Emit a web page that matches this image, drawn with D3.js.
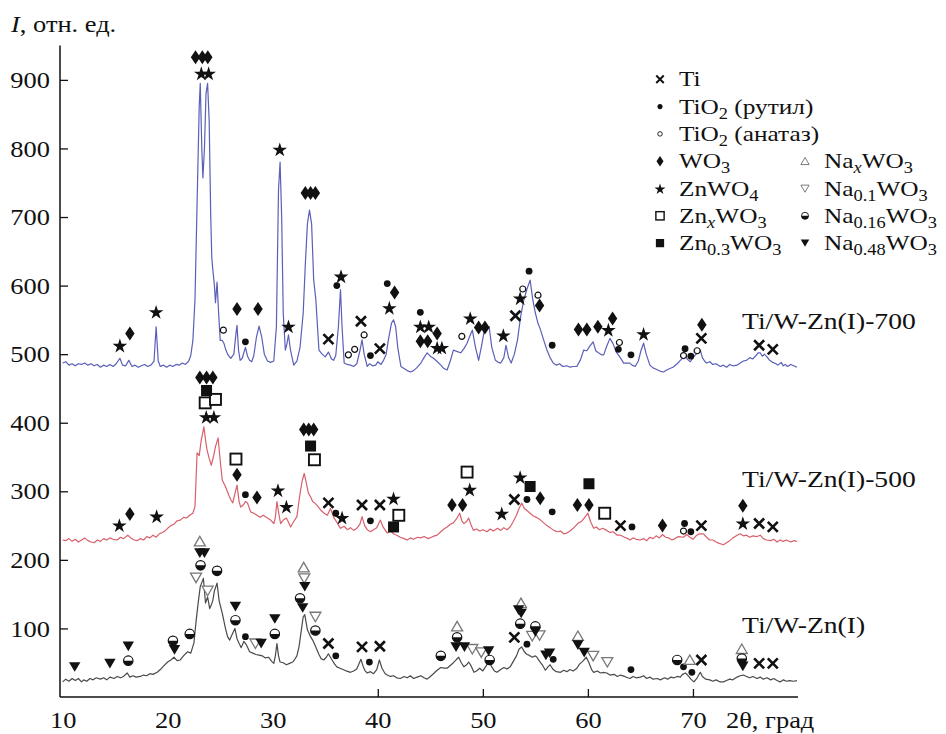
<!DOCTYPE html>
<html><head><meta charset="utf-8">
<script src="https://cdn.jsdelivr.net/npm/d3@7"></script>
<style>body{margin:0;background:#fff}svg{display:block}</style>
</head><body>
<svg id="chart" width="946" height="734"></svg>
<script>
// ---------- DATA ----------
const xTicks = [10, 20, 30, 40, 50, 60, 70];
const yTicks = [100, 200, 300, 400, 500, 600, 700, 800, 900];
const seriesNames = ["Ti/W-Zn(I)-700", "Ti/W-Zn(I)-500", "Ti/W-Zn(I)"];

const trace700 = [[10.0,487],[10.3,489],[10.6,484],[10.9,486],[11.2,483],[11.5,486],[11.8,485],[12.1,487],[12.4,484],[12.7,486],[13.0,483],[13.3,485],[13.6,481],[13.9,484],[14.2,482],[14.5,485],[14.8,482],[15.1,486],[15.45,494],[15.7,484],[16.0,483],[16.3,491],[16.6,482],[16.9,484],[17.2,481],[17.5,483],[17.8,485],[18.1,482],[18.4,484],[18.7,490],[18.9,540],[19.1,490],[19.3,482],[19.6,484],[19.9,481],[20.2,484],[20.5,482],[20.8,485],[21.1,484],[21.4,487],[21.7,485],[22.0,490],[22.2,498],[22.4,520],[22.6,580],[22.8,720],[23.0,860],[23.1,895],[23.25,800],[23.35,757],[23.5,800],[23.65,880],[23.8,895],[23.95,840],[24.1,700],[24.2,640],[24.3,623],[24.45,600],[24.55,575],[24.7,605],[24.85,560],[25.0,520],[25.2,520],[25.35,516],[25.5,508],[25.7,500],[26.0,494],[26.3,500],[26.5,530],[26.6,542],[26.75,505],[26.9,491],[27.1,494],[27.4,510],[27.6,497],[27.8,491],[28.0,489],[28.2,498],[28.45,525],[28.7,541],[28.95,525],[29.2,500],[29.5,490],[29.8,488],[30.1,490],[30.35,540],[30.55,740],[30.7,780],[30.85,700],[31.0,560],[31.2,506],[31.35,515],[31.5,528],[31.7,505],[32.0,484],[32.3,490],[32.6,510],[32.9,560],[33.1,630],[33.3,690],[33.5,710],[33.7,690],[33.9,608],[34.1,580],[34.4,506],[34.7,500],[35.0,496],[35.3,503],[35.6,493],[35.8,491],[36.0,498],[36.25,540],[36.45,594],[36.6,540],[36.8,487],[37.1,485],[37.4,484],[37.7,482],[38.0,486],[38.3,505],[38.5,521],[38.7,500],[39.0,482],[39.2,486],[39.5,483],[39.8,484],[40.0,489],[40.3,485],[40.55,491],[40.8,500],[41.0,520],[41.3,545],[41.5,550],[41.7,540],[41.9,510],[42.2,482],[42.5,479],[42.8,476],[43.1,474],[43.4,476],[43.7,480],[44.1,487],[44.4,495],[44.7,502],[45.0,497],[45.3,494],[45.6,490],[46.0,484],[46.3,479],[46.6,477],[46.9,490],[47.2,506],[47.5,504],[47.9,502],[48.2,508],[48.5,516],[48.8,528],[49.0,535],[49.3,510],[49.6,491],[49.85,510],[50.1,531],[50.35,536],[50.6,540],[50.85,510],[51.2,491],[51.5,488],[51.7,487],[52.0,495],[52.2,513],[52.45,495],[52.7,487],[53.0,500],[53.3,521],[53.6,555],[53.9,579],[54.2,595],[54.5,608],[54.75,580],[55.0,560],[55.25,545],[55.5,535],[55.8,520],[56.1,506],[56.4,495],[56.7,487],[57.0,484],[57.3,486],[57.6,482],[58.0,483],[58.3,481],[58.6,482],[58.95,482],[59.3,492],[59.6,506],[59.9,505],[60.2,512],[60.5,518],[60.75,505],[61.0,502],[61.3,499],[61.5,499],[61.8,512],[62.1,523],[62.4,515],[62.7,503],[62.9,499],[63.2,492],[63.4,487],[63.8,487],[64.0,487],[64.2,484],[64.5,482],[64.8,490],[65.05,505],[65.3,516],[65.55,500],[65.9,484],[66.2,480],[66.5,478],[66.9,475],[67.2,474],[67.5,477],[67.8,479],[68.1,481],[68.5,486],[68.8,491],[69.05,495],[69.3,496],[69.5,492],[69.75,489],[70.0,495],[70.3,500],[70.5,504],[70.7,506],[70.9,495],[71.1,490],[71.3,487],[71.6,489],[71.9,485],[72.2,486],[72.6,482],[72.9,484],[73.2,481],[73.5,485],[73.8,483],[74.2,484],[74.5,487],[74.8,490],[75.1,491],[75.4,495],[75.7,493],[76.0,498],[76.2,502],[76.4,502],[76.6,497],[76.8,500],[77.05,496],[77.3,491],[77.6,488],[77.9,486],[78.1,484],[78.4,488],[78.6,483],[78.8,485],[79.0,482],[79.3,485],[79.6,483],[79.9,481]];

const trace500 = [[10.0,229],[10.3,228],[10.6,231],[10.9,227],[11.2,230],[11.5,226],[11.8,229],[12.1,232],[12.4,228],[12.7,226],[13.0,225],[13.3,229],[13.6,227],[13.9,231],[14.2,229],[14.5,232],[14.8,230],[15.2,229],[15.5,233],[15.8,231],[16.2,236],[16.5,232],[16.8,229],[17.1,228],[17.4,231],[17.7,229],[18.0,234],[18.3,232],[18.6,236],[18.9,233],[19.2,238],[19.5,240],[19.8,243],[20.0,246],[20.3,250],[20.6,252],[20.9,257],[21.2,258],[21.5,262],[21.8,261],[22.1,265],[22.4,268],[22.6,278],[22.8,356],[23.0,352],[23.2,375],[23.45,394],[23.6,375],[23.75,360],[23.95,348],[24.15,338],[24.35,350],[24.55,365],[24.8,378],[25.0,345],[25.2,316],[25.5,307],[25.8,295],[26.0,288],[26.2,283],[26.45,300],[26.6,309],[26.8,285],[26.95,277],[27.2,280],[27.4,285],[27.6,283],[27.9,270],[28.2,268],[28.5,265],[28.8,262],[29.1,265],[29.5,261],[29.8,258],[30.1,253],[30.25,262],[30.4,285],[30.55,270],[30.75,253],[31.0,258],[31.3,261],[31.5,255],[31.7,248],[32.0,256],[32.3,263],[32.6,297],[32.8,315],[33.0,326],[33.2,312],[33.4,297],[33.6,292],[33.8,285],[34.0,283],[34.3,278],[34.6,272],[34.9,268],[35.2,265],[35.5,275],[35.8,262],[36.1,255],[36.45,246],[36.8,249],[37.1,244],[37.4,247],[37.7,243],[38.0,246],[38.3,252],[38.5,263],[38.75,250],[39.0,244],[39.3,241],[39.6,244],[39.9,247],[40.25,258],[40.5,248],[40.9,239],[41.2,242],[41.5,238],[41.8,236],[42.15,233],[42.5,231],[42.8,229],[43.1,232],[43.4,230],[43.8,233],[44.1,232],[44.4,234],[44.8,231],[45.1,233],[45.4,235],[45.65,236],[46.0,241],[46.3,245],[46.6,248],[46.9,252],[47.2,254],[47.5,260],[47.8,268],[48.0,257],[48.2,253],[48.45,256],[48.65,261],[48.9,250],[49.1,243],[49.4,245],[49.7,242],[50.0,244],[50.4,241],[50.7,245],[51.0,242],[51.4,246],[51.7,243],[52.0,247],[52.3,244],[52.6,248],[52.9,256],[53.2,265],[53.45,275],[53.7,283],[53.95,275],[54.2,272],[54.5,268],[54.8,264],[55.1,262],[55.5,258],[55.8,254],[56.1,250],[56.4,247],[56.75,243],[57.1,241],[57.4,242],[57.7,238],[58.0,239],[58.3,242],[58.6,246],[58.85,250],[59.1,254],[59.4,256],[59.7,262],[60.0,268],[60.25,256],[60.55,246],[60.8,248],[61.1,244],[61.4,246],[61.8,243],[62.1,240],[62.4,241],[62.8,236],[63.1,236],[63.5,233],[63.8,231],[64.0,229],[64.3,232],[64.6,230],[65.0,229],[65.3,231],[65.6,228],[65.9,233],[66.2,231],[66.5,235],[66.8,232],[67.1,237],[67.4,233],[67.7,232],[68.0,229],[68.3,231],[68.6,234],[69.1,233],[69.4,237],[69.7,233],[70.0,230],[70.3,235],[70.6,238],[71.0,238],[71.3,233],[71.6,229],[71.9,229],[72.2,226],[72.5,224],[72.9,222],[73.2,225],[73.5,228],[73.8,232],[74.2,236],[74.5,238],[74.8,235],[75.1,236],[75.4,233],[75.7,235],[76.1,234],[76.4,236],[76.7,231],[77.0,229],[77.4,228],[77.7,230],[78.0,226],[78.3,229],[78.6,227],[78.9,229],[79.3,226],[79.6,228],[79.9,227]];

const traceInit = [[10.0,22],[10.3,26],[10.6,23],[10.9,27],[11.2,24],[11.5,27],[11.8,22],[12.0,25],[12.3,23],[12.6,27],[12.9,25],[13.2,28],[13.6,26],[13.9,28],[14.2,25],[14.5,29],[14.9,27],[15.2,30],[15.5,28],[15.8,30],[16.15,35],[16.4,29],[16.7,31],[17.0,29],[17.4,30],[17.7,32],[18.0,31],[18.3,34],[18.6,33],[19.0,36],[19.3,40],[19.6,45],[20.0,51],[20.3,54],[20.6,58],[20.9,53],[21.2,54],[21.5,60],[21.9,66],[22.2,64],[22.5,79],[22.7,110],[22.9,137],[23.1,161],[23.4,173],[23.6,137],[23.8,146],[24.0,129],[24.15,134],[24.3,141],[24.45,155],[24.7,166],[24.9,140],[25.2,122],[25.5,100],[25.7,88],[25.9,83],[26.1,90],[26.4,100],[26.6,85],[26.8,78],[27.0,72],[27.25,81],[27.5,76],[27.8,66],[28.1,64],[28.4,62],[28.7,61],[29.0,60],[29.3,57],[29.6,58],[29.9,52],[30.1,49],[30.25,60],[30.4,78],[30.55,60],[30.7,51],[31.0,50],[31.3,47],[31.6,49],[31.9,51],[32.1,55],[32.3,60],[32.5,73],[32.7,95],[32.9,117],[33.05,120],[33.3,98],[33.6,88],[33.8,83],[34.1,73],[34.4,62],[34.6,56],[34.85,54],[35.1,58],[35.3,63],[35.6,55],[35.9,48],[36.1,44],[36.4,42],[36.7,40],[37.0,38],[37.4,36],[37.7,38],[38.0,41],[38.2,48],[38.4,55],[38.6,45],[38.8,38],[39.0,35],[39.3,37],[39.6,34],[39.9,40],[40.15,54],[40.4,42],[40.7,34],[40.9,32],[41.2,30],[41.5,31],[41.8,28],[42.15,27],[42.5,30],[42.8,28],[43.1,31],[43.4,27],[43.75,29],[44.1,31],[44.4,28],[44.7,26],[45.0,30],[45.3,34],[45.65,39],[46.0,43],[46.3,42],[46.6,42],[46.9,46],[47.2,50],[47.5,55],[47.7,58],[47.95,50],[48.2,44],[48.45,47],[48.65,51],[48.9,45],[49.15,36],[49.4,38],[49.7,42],[50.0,38],[50.3,45],[50.6,54],[50.8,45],[51.1,38],[51.35,36],[51.7,40],[52.0,43],[52.3,41],[52.6,44],[52.9,52],[53.2,60],[53.45,70],[53.7,73],[53.95,66],[54.2,62],[54.4,61],[54.7,58],[55.0,60],[55.15,58],[55.4,52],[55.7,46],[55.95,39],[56.2,44],[56.4,47],[56.7,40],[57.0,37],[57.4,36],[57.7,39],[58.0,37],[58.3,40],[58.6,38],[58.95,42],[59.2,48],[59.5,52],[59.85,58],[60.1,50],[60.35,40],[60.55,36],[60.9,38],[61.2,35],[61.5,36],[61.8,35],[62.1,32],[62.5,33],[62.8,30],[63.1,32],[63.5,30],[63.8,28],[64.0,27],[64.3,30],[64.6,28],[65.0,29],[65.3,31],[65.6,27],[65.9,29],[66.2,26],[66.6,27],[66.9,25],[67.3,28],[67.6,26],[67.9,29],[68.2,28],[68.5,30],[68.8,29],[69.0,33],[69.3,35],[69.6,30],[69.8,26],[70.1,22],[70.4,28],[70.7,36],[70.9,30],[71.2,26],[71.6,25],[71.9,23],[72.2,25],[72.6,22],[72.9,22],[73.2,24],[73.5,26],[73.8,25],[74.2,29],[74.5,31],[74.8,32],[75.1,30],[75.4,28],[75.7,30],[76.1,27],[76.4,29],[76.7,26],[77.05,28],[77.4,25],[77.7,27],[78.0,24],[78.3,22],[78.6,25],[78.9,23],[79.2,24],[79.6,23],[79.9,24]];

// phase marker positions [2θ, I]
const tiMarks = [[35.3,522],[38.4,548],[40.2,508],[53.1,556],[70.8,523],[76.3,513],[77.6,507],
  [35.3,283],[38.5,280],[40.2,280],[53.0,288],[63.1,250],[70.8,250],[76.3,253],[77.6,248],
  [35.3,78],[38.5,73],[40.2,74],[53.0,87],[70.8,54],[76.3,49],[77.6,49]];
const rutileMarks = [[27.4,518],[36.1,600],[39.3,498],[40.9,603],[44.05,561],[54.4,621],[56.6,513],[62.9,507],[64.1,499],[69.25,508],[69.8,497],
  [27.4,295],[36.0,268],[39.3,257],[54.2,288],[56.6,270],[64.2,248],[69.2,253],[69.8,241],
  [27.4,88],[36.0,60],[39.2,51],[54.2,77],[56.7,55],[64.1,40],[69.1,44],[69.9,36]];
const anataseMarks = [[25.3,535],[37.2,499],[37.8,507],[38.7,528],[44.4,538],[48.0,526],[53.8,595],[55.25,586],[63.0,517],[69.1,498],[70.4,505],
  [69.1,242]];
const wo3Marks = [[22.65,933],[23.3,933],[23.82,933],[33.1,735],[33.6,735],[34.06,735],[16.4,530],[26.6,566],[28.6,566],[41.6,590],[44.05,519],[44.75,519],[45.65,530],[49.6,539],[50.2,539],[55.4,571],[59.1,536],[59.9,536],[60.95,540],[62.35,552],[70.85,543],
  [23.06,466],[23.7,466],[24.3,466],[26.6,324],[32.95,390],[33.43,390],[33.9,390],[16.4,267],[28.5,291],[47.06,280],[48.07,280],[55.46,290],[59.0,280],[60.1,280],[67.1,250],[74.75,279]];
const znwo4Marks = [[23.2,910],[23.9,910],[30.67,799],[15.45,513],[18.9,562],[31.5,541],[36.5,614],[41.1,568],[44.05,541],[44.85,541],[45.65,510],[46.1,510],[48.8,553],[51.95,528],[53.55,582],[61.95,536],[65.3,530],
  [23.67,409],[24.4,409],[15.4,251],[18.95,264],[30.5,302],[31.3,278],[36.6,262],[41.5,290],[48.75,303],[51.8,268],[53.55,321],[74.75,254]];
const znxMarks = [[23.57,429],[24.55,434],[26.5,347],[33.97,346],[42.0,265],[48.5,328],[61.6,268]];
const zn03Marks = [[23.7,447],[33.6,366],[41.5,248],[54.5,307],[60.1,311]];
const naxMarks = [[23.06,227],[32.95,189],[47.55,103],[53.63,137],[59.05,89],[69.7,54],[74.65,70]];
const na01Marks = [[22.7,174],[23.8,155],[28.35,78],[33.0,173],[34.06,117],[49.0,70],[49.85,65],[54.7,89],[55.4,90],[60.5,60],[61.85,51]];
const na016Marks = [[16.25,53],[20.5,82],[22.1,92],[23.13,192],[24.7,184],[26.45,112],[30.2,92],[32.6,144],[34.06,97],[46.0,60],[47.55,87],[50.65,54],[53.56,107],[55.0,103],[68.5,54],[74.65,56]];
const na048Marks = [[11.15,44],[14.5,49],[16.25,74],[20.65,69],[23.06,210],[23.5,210],[26.45,132],[28.9,78],[30.2,114],[33.05,161],[32.85,130],[47.45,73],[48.25,73],[50.55,67],[53.4,127],[53.65,122],[55.0,95],[56.0,61],[56.35,64],[59.05,76],[59.65,65],[74.75,45]];

const legendLeft = [
  ["ti", [["Ti"]]],
  ["rutile", [["TiO"],["2","sub"],[" (рутил)"]]],
  ["anatase", [["TiO"],["2","sub"],[" (анатаз)"]]],
  ["wo3", [["WO"],["3","sub"]]],
  ["znwo4", [["ZnWO"],["4","sub"]]],
  ["znx", [["Zn"],["x","subi"],["WO"],["3","sub"]]],
  ["zn03", [["Zn"],["0.3","sub"],["WO"],["3","sub"]]]
];
const legendRight = [
  ["nax", [["Na"],["x","subi"],["WO"],["3","sub"]]],
  ["na01", [["Na"],["0.1","sub"],["WO"],["3","sub"]]],
  ["na016", [["Na"],["0.16","sub"],["WO"],["3","sub"]]],
  ["na048", [["Na"],["0.48","sub"],["WO"],["3","sub"]]]
];

// ---------- CHART ----------
const svg = d3.select("#chart");
const FONT = "Liberation Serif, Times New Roman, serif";
const SX = 1.15;
const x = d3.scaleLinear().domain([9.75, 80]).range([60, 798]);
const y = d3.scaleLinear().domain([0, 950]).range([697, 45.6]);

function txt(g, px, py, segs, o) {
  const t = g.append("text")
    .attr("transform", `translate(${px},${py}) scale(${o.sx || SX},1)`)
    .attr("font-family", FONT).attr("font-size", o.size)
    .attr("text-anchor", o.anchor || "start").attr("fill", "#111");
  let shift = 0;
  segs.forEach(s => {
    const str = s[0], st = s[1] || "";
    const isSub = st.indexOf("sub") === 0;
    const target = isSub ? (o.subShift || 5) : 0;
    const ts = t.append("tspan").text(str).attr("dy", target - shift);
    shift = target;
    if (isSub) ts.attr("font-size", o.subSize || o.size * 0.72);
    if (st === "i" || st === "subi") ts.attr("font-style", "italic");
  });
  return t;
}

// axes
const yAxis = d3.axisLeft(y).tickValues(yTicks).tickSize(-8).tickPadding(10);
const gy = svg.append("g").attr("transform", "translate(60,0)").call(yAxis);
gy.select(".domain").attr("d", `M0,${y(950)}V${y(0)}`).attr("stroke", "#111").attr("stroke-width", 1.5);
gy.selectAll(".tick line").attr("stroke", "#111").attr("stroke-width", 1.3);
gy.selectAll(".tick text").attr("font-family", FONT).attr("font-size", 23).attr("fill", "#111")
  .attr("x", -10 / SX).attr("dy", "0.33em").attr("transform", `scale(${SX},1)`);

const xAxis = d3.axisBottom(x).tickValues(xTicks).tickSize(-8);
const gx = svg.append("g").attr("transform", `translate(0,${y(0)})`).call(xAxis);
gx.select(".domain").attr("d", `M60,0H798`).attr("stroke", "#111").attr("stroke-width", 1.5);
gx.selectAll(".tick line").attr("stroke", "#111").attr("stroke-width", 1.3)
  .attr("display", d => d < 40 ? "none" : null);
gx.selectAll(".tick text").attr("font-family", FONT).attr("font-size", 23).attr("fill", "#111")
  .attr("y", 14.5).attr("x", 0).attr("transform", `scale(${SX},1)`);

txt(svg, 726, 728, [["2θ, град"]], {size: 23});
txt(svg, 11, 32, [["I", "i"], [", отн. ед."]], {size: 23});

// traces
const line = d3.line().x(d => x(d[0])).y(d => y(d[1]));
const traces = [
  {data: trace700, color: "#5a5fb8"},
  {data: trace500, color: "#d8606c"},
  {data: traceInit, color: "#4a4a4a"}
];
svg.append("g").selectAll("path").data(traces).join("path")
  .attr("d", d => line(d.data)).attr("fill", "none")
  .attr("stroke", d => d.color).attr("stroke-width", 1.2).attr("stroke-linejoin", "round");

// series labels
txt(svg, 742, 329, [[seriesNames[0]]], {size: 24});
txt(svg, 742, 487, [[seriesNames[1]]], {size: 24});
txt(svg, 742, 633, [[seriesNames[2]]], {size: 24});

// marker drawing
function drawMarker(g, key, cx, cy, k) {
  const m = g.append("g").attr("transform", `translate(${cx},${cy}) scale(${k})`);
  switch (key) {
    case "ti":
      m.append("path").attr("d", "M-5,-5L5,5M-5,5L5,-5").attr("stroke", "#111").attr("stroke-width", 2.6).attr("fill", "none");
      break;
    case "rutile":
      m.append("circle").attr("r", 3.4).attr("fill", "#111");
      break;
    case "anatase":
      m.append("circle").attr("r", 3).attr("fill", "#fff").attr("stroke", "#111").attr("stroke-width", 1.2);
      break;
    case "wo3":
      m.append("path").attr("d", "M0,-7L4.7,0L0,7L-4.7,0Z").attr("fill", "#111");
      break;
    case "znwo4":
      m.append("path").attr("d", d3.symbol(d3.symbolStar, 66)()).attr("fill", "#111").attr("transform", "translate(0,1)");
      break;
    case "znx":
      m.append("rect").attr("x", -5.5).attr("y", -5.5).attr("width", 11).attr("height", 11)
        .attr("fill", "#fff").attr("stroke", "#111").attr("stroke-width", 1.9);
      break;
    case "zn03":
      m.append("rect").attr("x", -5.5).attr("y", -5.5).attr("width", 11).attr("height", 11).attr("fill", "#111");
      break;
    case "nax":
      m.append("path").attr("d", "M0,-5L5.5,4.5L-5.5,4.5Z").attr("fill", "#fff").attr("stroke", "#777").attr("stroke-width", 1.3);
      break;
    case "na01":
      m.append("path").attr("d", "M0,5L5.5,-4.5L-5.5,-4.5Z").attr("fill", "#fff").attr("stroke", "#777").attr("stroke-width", 1.3);
      break;
    case "na016":
      m.append("circle").attr("r", 4.7).attr("fill", "#fff").attr("stroke", "#111").attr("stroke-width", 1.2);
      m.append("path").attr("d", "M-4.7,0A4.7,4.7 0 0 0 4.7,0Z").attr("fill", "#111");
      break;
    case "na048":
      m.append("path").attr("d", "M0,5L5.7,-4.7L-5.7,-4.7Z").attr("fill", "#111");
      break;
  }
}

const phaseSets = [
  ["anatase", anataseMarks], ["rutile", rutileMarks], ["ti", tiMarks], ["wo3", wo3Marks],
  ["znwo4", znwo4Marks], ["znx", znxMarks], ["zn03", zn03Marks], ["nax", naxMarks],
  ["na01", na01Marks], ["na016", na016Marks], ["na048", na048Marks]
];
const gm = svg.append("g");
phaseSets.forEach(([key, arr]) => arr.forEach(p => drawMarker(gm, key, x(p[0]), y(p[1]), 1)));

// legend
const gl = svg.append("g");
const rowY = i => 79.3 + 27.3 * i;
legendLeft.forEach((e, i) => {
  drawMarker(gl, e[0], 660, rowY(i), 0.75);
  txt(gl, 679, rowY(i) + 7, e[1], {size: 22, subSize: 16, subShift: 5});
});
legendRight.forEach((e, i) => {
  drawMarker(gl, e[0], 805, rowY(i + 3), 0.75);
  txt(gl, 824, rowY(i + 3) + 7, e[1], {size: 22, subSize: 16, subShift: 5});
});
</script>
</body></html>
